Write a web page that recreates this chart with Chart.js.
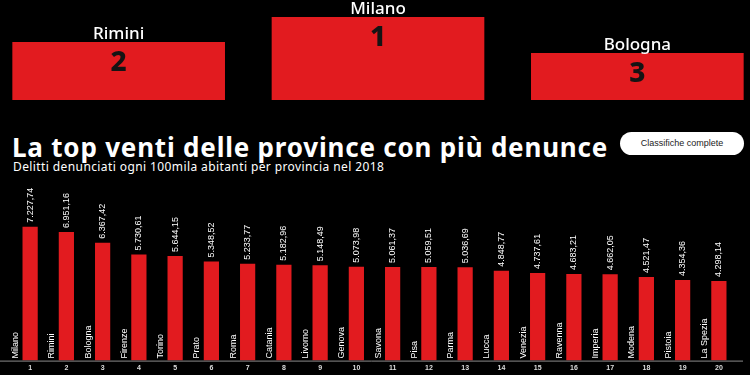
<!DOCTYPE html>
<html>
<head>
<meta charset="utf-8">
<script src="https://cdn.jsdelivr.net/npm/chart.js@4"></script>
<style>
  html, body { margin: 0; padding: 0; background: #000; width: 750px; height: 375px; overflow: hidden; }
  #podium-wrap { position: absolute; left: -11px; top: 0; width: 778px; height: 100px; }
  #main-wrap { position: absolute; left: 0; top: 180px; width: 750px; height: 195px; }
  .title { position: absolute; left: 12px; top: 129px; color: #fff; font-family: "Noto Sans", sans-serif; font-weight: 700; font-size: 26px; letter-spacing: 0.8px; white-space: nowrap; }
  .subtitle { position: absolute; left: 13px; top: 158px; color: #fff; font-family: "Noto Sans", sans-serif; font-size: 12px; letter-spacing: 0.4px; white-space: nowrap; }
  .button { position: absolute; left: 620px; top: 132px; width: 124px; height: 23px; background: #fff; border-radius: 12px; color: #222; font-family: "Liberation Sans Narrow", "Liberation Sans", sans-serif; font-size: 9px; line-height: 23px; text-align: center; }
</style>
</head>
<body>
<div id="podium-wrap"><canvas id="podium"></canvas></div>
<div class="title">La top venti delle province con più denunce</div>
<div class="subtitle">Delitti denunciati ogni 100mila abitanti per provincia nel 2018</div>
<div class="button">Classifiche complete</div>
<div id="main-wrap"><canvas id="ranking"></canvas></div>
<script>
const podiumNames = ['Rimini', 'Milano', 'Bologna'];
const podiumRanks = ['2', '1', '3'];
const podiumHeights = [58, 83, 47];

const provinces = ['Milano', 'Rimini', 'Bologna', 'Firenze', 'Torino', 'Prato', 'Roma', 'Catania', 'Livorno', 'Genova',
  'Savona', 'Pisa', 'Parma', 'Lucca', 'Venezia', 'Ravenna', 'Imperia', 'Modena', 'Pistoia', 'La Spezia'];
const crimes = [7227.74, 6951.16, 6367.42, 5730.61, 5644.15, 5348.52, 5233.77, 5182.96, 5148.49, 5073.98,
  5061.37, 5059.51, 5036.69, 4848.77, 4737.61, 4683.21, 4662.05, 4521.47, 4354.36, 4298.14];
const ranks = ['1', '2', '3', '4', '5', '6', '7', '8', '9', '10',
  '11', '12', '13', '14', '15', '16', '17', '18', '19', '20'];

const RED = '#e21b1f';

function formatIt(v) {
  const parts = v.toFixed(2).split('.');
  const intPart = parts[0].replace(/\B(?=(\d{3})+(?!\d))/g, '.');
  return intPart + ',' + parts[1];
}

// podium labels: name above the box, rank inside it
const podiumLabels = {
  id: 'podiumLabels',
  afterDatasetsDraw(chart) {
    const ctx = chart.ctx;
    const meta = chart.getDatasetMeta(0);
    ctx.save();
    ctx.textAlign = 'center';
    ctx.textBaseline = 'middle';
    meta.data.forEach((bar, i) => {
      ctx.fillStyle = '#fff';
      ctx.font = '500 17px "Noto Sans", sans-serif';
      ctx.fillText(podiumNames[i], bar.x, bar.y - 8);
      ctx.fillStyle = '#141414';
      ctx.font = '800 28px "Noto Sans", sans-serif';
      ctx.fillText(podiumRanks[i], bar.x, bar.y + 21);
    });
    ctx.restore();
  }
};

new Chart(document.querySelector('#podium'), {
  type: 'bar',
  data: {
    labels: podiumNames,
    datasets: [{
      data: podiumHeights,
      backgroundColor: RED,
      barPercentage: 0.82,
      categoryPercentage: 1
    }]
  },
  options: {
    responsive: true,
    maintainAspectRatio: false,
    animation: false,
    layout: { padding: 0 },
    plugins: { legend: { display: false }, tooltip: { enabled: false } },
    scales: {
      x: { display: false },
      y: { display: false, min: 0, max: 100 }
    }
  },
  plugins: [podiumLabels]
});

// rotated value labels above bars and province names beside them
const barLabels = {
  id: 'barLabels',
  afterDatasetsDraw(chart) {
    const ctx = chart.ctx;
    const meta = chart.getDatasetMeta(0);
    const base = chart.chartArea.bottom;
    ctx.save();
    ctx.fillStyle = '#fff';
    ctx.font = '9px "Liberation Sans Narrow", "Liberation Sans", sans-serif';
    ctx.textBaseline = 'middle';
    ctx.textAlign = 'left';
    meta.data.forEach((bar, i) => {
      ctx.save();
      ctx.translate(bar.x, bar.y - 4);
      ctx.rotate(-Math.PI / 2);
      ctx.fillText(formatIt(crimes[i]), 0, 0);
      ctx.restore();

      ctx.save();
      ctx.translate(bar.x - 14.5, base - 2);
      ctx.rotate(-Math.PI / 2);
      ctx.fillText(provinces[i], 0, 0);
      ctx.restore();
    });
    // long baseline across the whole width
    ctx.strokeStyle = '#8a8a8a';
    ctx.lineWidth = 1;
    ctx.beginPath();
    ctx.moveTo(0, base + 0.5);
    ctx.lineTo(743, base + 0.5);
    ctx.stroke();
    ctx.restore();
  }
};

new Chart(document.querySelector('#ranking'), {
  type: 'bar',
  data: {
    labels: ranks,
    datasets: [{
      data: crimes,
      backgroundColor: RED,
      barPercentage: 0.42,
      categoryPercentage: 1
    }]
  },
  options: {
    responsive: true,
    maintainAspectRatio: false,
    animation: false,
    layout: { padding: { top: 14, left: 12, right: 13, bottom: 0 } },
    plugins: { legend: { display: false }, tooltip: { enabled: false } },
    scales: {
      x: {
        grid: { display: false, drawTicks: false },
        border: { display: false },
        ticks: {
          color: '#ddd',
          font: { size: 7, weight: 'bold', family: '"Liberation Sans", sans-serif' },
          padding: 3,
          maxRotation: 0,
          autoSkip: false
        }
      },
      y: { display: false, min: 0, max: 9000 }
    }
  },
  plugins: [barLabels]
});
</script>
</body>
</html>
